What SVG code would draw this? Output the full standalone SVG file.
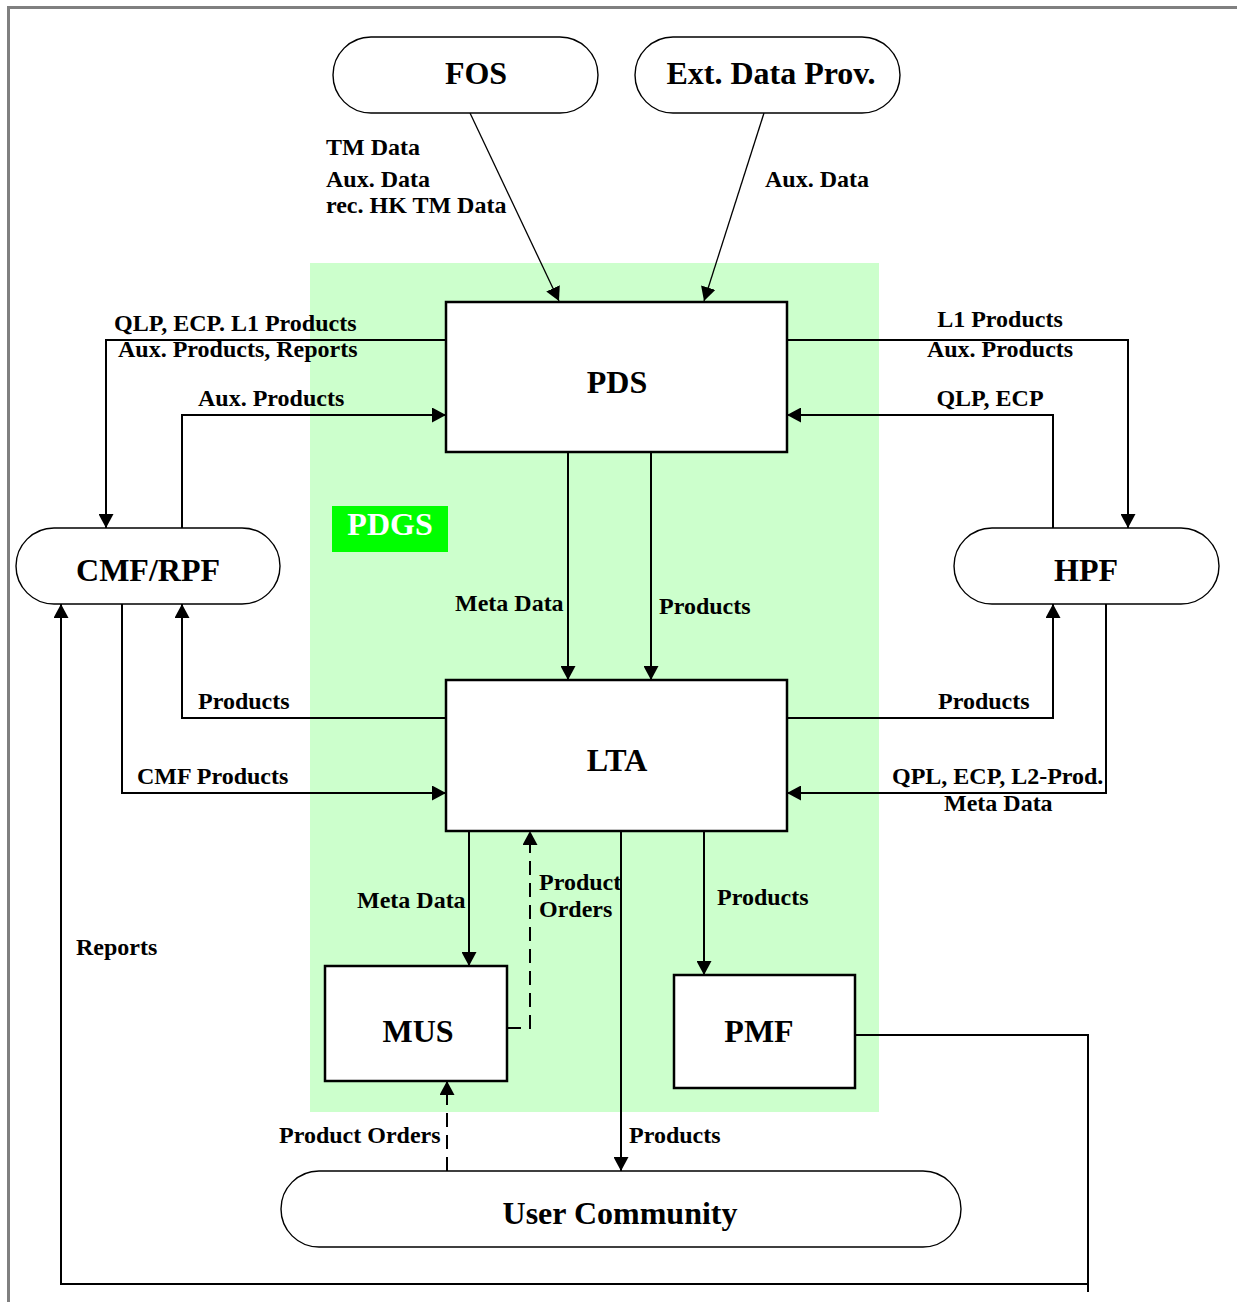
<svg xmlns="http://www.w3.org/2000/svg" width="1237" height="1302" viewBox="0 0 1237 1302">
<style>
.lbl{font-family:"Liberation Serif","Times New Roman",serif;font-weight:bold;font-size:24px;fill:#000}
.nt{font-family:"Liberation Serif","Times New Roman",serif;font-weight:bold;font-size:32px;fill:#000;text-anchor:middle}
.st{fill:#fff;stroke:#000;stroke-width:1.4}
.bx{fill:#fff;stroke:#000;stroke-width:2.5}
.c{fill:none;stroke:#000;stroke-width:2}
.thin{fill:none;stroke:#000;stroke-width:1.3}
.d{fill:none;stroke:#000;stroke-width:2;stroke-dasharray:14,8}
</style>
<defs>
<marker id="ah" markerUnits="userSpaceOnUse" markerWidth="15" markerHeight="15" refX="14" refY="7.5" orient="auto" viewBox="0 0 15 15">
<path d="M0,0 L14,7.5 L0,15 z" fill="#000"/>
</marker>
</defs>
<rect x="0" y="0" width="1237" height="1302" fill="#fff"/>
<path d="M8.5,1302 V7.5 H1237" fill="none" stroke="#808080" stroke-width="3"/>
<rect id="pdgs-area" x="310" y="263" width="569" height="849" fill="#CCFFCC"/>
<g id="pdgs-label">
<rect x="332" y="506" width="116" height="46" fill="#00FF00"/>
<text x="390" y="535" class="nt" style="fill:#fff">PDGS</text>
</g>
<g id="connectors">
<path class="thin" d="M470,113 L559,301" marker-end="url(#ah)"/>
<path class="thin" d="M764,113 L704,301" marker-end="url(#ah)"/>
<path class="c" d="M446,340 H106 V528" marker-end="url(#ah)"/>
<path class="c" d="M182,528 V415 H446" marker-end="url(#ah)"/>
<path class="c" d="M787,340 H1128 V528" marker-end="url(#ah)"/>
<path class="c" d="M1053,528 V415 H787" marker-end="url(#ah)"/>
<path class="c" d="M568,452 V680" marker-end="url(#ah)"/>
<path class="c" d="M651,452 V680" marker-end="url(#ah)"/>
<path class="c" d="M446,718 H182 V604" marker-end="url(#ah)"/>
<path class="c" d="M122,604 V793 H446" marker-end="url(#ah)"/>
<path class="c" d="M787,718 H1053 V604" marker-end="url(#ah)"/>
<path class="c" d="M1106,604 V793 H787" marker-end="url(#ah)"/>
<path class="c" d="M469,831 V966" marker-end="url(#ah)"/>
<path class="d" d="M507,1028 H530 V831" marker-end="url(#ah)"/>
<path class="c" d="M704,831 V975" marker-end="url(#ah)"/>
<path class="c" d="M621,831 V1171" marker-end="url(#ah)"/>
<path class="d" d="M447,1171 V1081" marker-end="url(#ah)"/>
<path class="c" d="M855,1035 H1088 V1292"/>
<path class="c" d="M1088,1284 H61 V604" marker-end="url(#ah)"/>
</g>
<g id="labels">
<text class="lbl" x="326" y="155">TM Data</text>
<text class="lbl" x="326" y="187">Aux. Data</text>
<text class="lbl" x="326" y="213">rec. HK TM Data</text>
<text class="lbl" x="765" y="187">Aux. Data</text>
<text class="lbl" x="114" y="331">QLP, ECP. L1 Products</text>
<text class="lbl" x="118" y="357">Aux. Products, Reports</text>
<text class="lbl" x="198" y="406">Aux. Products</text>
<text class="lbl" x="1000" y="327" text-anchor="middle">L1 Products</text>
<text class="lbl" x="1000" y="357" text-anchor="middle">Aux. Products</text>
<text class="lbl" x="990" y="406" text-anchor="middle">QLP, ECP</text>
<text class="lbl" x="455" y="611">Meta Data</text>
<text class="lbl" x="659" y="614">Products</text>
<text class="lbl" x="198" y="709">Products</text>
<text class="lbl" x="137" y="784">CMF Products</text>
<text class="lbl" x="938" y="709">Products</text>
<text class="lbl" x="892" y="784">QPL, ECP, L2-Prod.</text>
<text class="lbl" x="944" y="811">Meta Data</text>
<text class="lbl" x="357" y="908">Meta Data</text>
<text class="lbl" x="539" y="890">Product</text>
<text class="lbl" x="539" y="917">Orders</text>
<text class="lbl" x="717" y="905">Products</text>
<text class="lbl" x="76" y="955">Reports</text>
<text class="lbl" x="279" y="1143">Product Orders</text>
<text class="lbl" x="629" y="1143">Products</text>
</g>
<g id="fos"><rect class="st" x="333" y="37" width="265" height="76" rx="38"/><text class="nt" x="476" y="84">FOS</text></g>
<g id="ext"><rect class="st" x="635" y="37" width="265" height="76" rx="38"/><text class="nt" x="771" y="84">Ext. Data Prov.</text></g>
<g id="pds"><rect class="bx" x="446" y="302" width="341" height="150"/><text class="nt" x="617" y="393">PDS</text></g>
<g id="cmf"><rect class="st" x="16" y="528" width="264" height="76" rx="38"/><text class="nt" x="148" y="581">CMF/RPF</text></g>
<g id="hpf"><rect class="st" x="954" y="528" width="265" height="76" rx="38"/><text class="nt" x="1086" y="581">HPF</text></g>
<g id="lta"><rect class="bx" x="446" y="680" width="341" height="151"/><text class="nt" x="617" y="771">LTA</text></g>
<g id="mus"><rect class="bx" x="325" y="966" width="182" height="115"/><text class="nt" x="418" y="1042">MUS</text></g>
<g id="pmf"><rect class="bx" x="674" y="975" width="181" height="113"/><text class="nt" x="759" y="1042">PMF</text></g>
<g id="user"><rect class="st" x="281" y="1171" width="680" height="76" rx="38"/><text class="nt" x="620" y="1224">User Community</text></g>
</svg>
